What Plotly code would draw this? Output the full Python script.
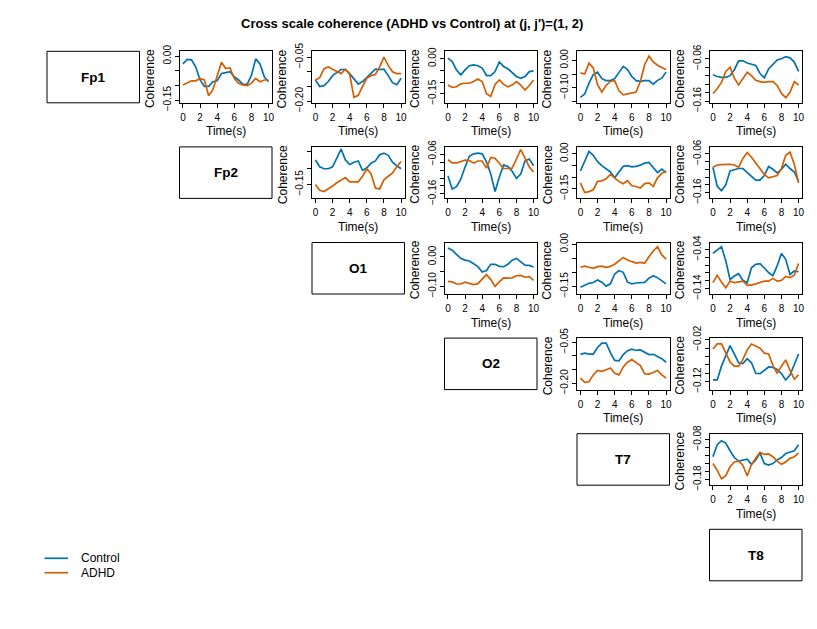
import plotly.graph_objects as go

W, H = 817, 629

# ---------------- data ----------------
time_s = [0, 0.5, 1, 1.5, 2, 2.5, 3, 3.5, 4, 4.5, 5, 5.5, 6, 6.5, 7, 7.5, 8, 8.5, 9, 9.5, 10]
channels = ["Fp1", "Fp2", "O1", "O2", "T7", "T8"]
series_names = ["Control", "ADHD"]

fp1_fp2_control = [-0.026, -0.011, -0.012, -0.037, -0.081, -0.103, -0.103, -0.087, -0.084, -0.059, -0.056, -0.053, -0.070, -0.081, -0.096, -0.096, -0.064, -0.009, -0.026, -0.070, -0.087]
fp1_fp2_adhd = [-0.098, -0.090, -0.084, -0.084, -0.076, -0.081, -0.135, -0.114, -0.070, -0.020, -0.042, -0.040, -0.076, -0.092, -0.098, -0.100, -0.092, -0.076, -0.087, -0.081, -0.081]

fp1_o1_control = [-0.128, -0.150, -0.147, -0.133, -0.113, -0.102, -0.092, -0.092, -0.106, -0.124, -0.142, -0.133, -0.120, -0.106, -0.091, -0.092, -0.091, -0.113, -0.137, -0.144, -0.122]
fp1_o1_adhd = [-0.128, -0.120, -0.089, -0.083, -0.091, -0.098, -0.106, -0.091, -0.109, -0.187, -0.180, -0.150, -0.122, -0.113, -0.109, -0.083, -0.050, -0.078, -0.100, -0.106, -0.106]

fp1_o2_control = [0.003, -0.012, -0.048, -0.069, -0.048, -0.030, -0.026, -0.030, -0.040, -0.072, -0.072, -0.055, -0.014, -0.033, -0.043, -0.058, -0.076, -0.084, -0.076, -0.055, -0.052]
fp1_o2_adhd = [-0.113, -0.123, -0.120, -0.108, -0.105, -0.105, -0.098, -0.087, -0.098, -0.150, -0.162, -0.110, -0.091, -0.110, -0.120, -0.113, -0.098, -0.113, -0.134, -0.115, -0.091]

fp1_t7_control = [-0.135, -0.123, -0.083, -0.052, -0.043, -0.067, -0.074, -0.074, -0.067, -0.043, -0.022, -0.034, -0.059, -0.074, -0.077, -0.074, -0.074, -0.087, -0.073, -0.065, -0.043]
fp1_t7_adhd = [-0.046, -0.050, -0.010, -0.028, -0.089, -0.116, -0.091, -0.077, -0.074, -0.111, -0.126, -0.123, -0.121, -0.116, -0.077, -0.016, 0.015, -0.006, -0.018, -0.026, -0.034]

fp1_t8_control = [-0.098, -0.102, -0.104, -0.104, -0.100, -0.086, -0.065, -0.065, -0.070, -0.073, -0.076, -0.095, -0.105, -0.084, -0.073, -0.063, -0.060, -0.055, -0.058, -0.068, -0.090]
fp1_t8_adhd = [-0.142, -0.131, -0.116, -0.090, -0.080, -0.106, -0.122, -0.108, -0.092, -0.100, -0.111, -0.114, -0.116, -0.114, -0.114, -0.123, -0.142, -0.152, -0.139, -0.114, -0.122]

fp2_o1_control = [-0.075, -0.096, -0.102, -0.102, -0.096, -0.067, -0.042, -0.075, -0.089, -0.082, -0.078, -0.107, -0.099, -0.085, -0.078, -0.059, -0.054, -0.061, -0.082, -0.093, -0.102]
fp2_o1_adhd = [-0.150, -0.168, -0.172, -0.164, -0.155, -0.145, -0.136, -0.129, -0.142, -0.142, -0.142, -0.125, -0.102, -0.118, -0.161, -0.164, -0.136, -0.125, -0.115, -0.096, -0.080]

fp2_o2_control = [-0.114, -0.148, -0.142, -0.123, -0.092, -0.065, -0.059, -0.057, -0.059, -0.079, -0.110, -0.154, -0.118, -0.087, -0.091, -0.103, -0.121, -0.110, -0.077, -0.072, -0.089]
fp2_o2_adhd = [-0.074, -0.082, -0.082, -0.079, -0.075, -0.076, -0.082, -0.077, -0.077, -0.095, -0.068, -0.070, -0.083, -0.096, -0.096, -0.095, -0.072, -0.048, -0.070, -0.092, -0.105]

fp2_t7_control = [-0.074, -0.029, 0.010, -0.007, -0.034, -0.051, -0.066, -0.078, -0.103, -0.081, -0.054, -0.051, -0.056, -0.054, -0.049, -0.040, -0.037, -0.059, -0.081, -0.066, -0.081]
fp2_t7_adhd = [-0.125, -0.166, -0.162, -0.154, -0.118, -0.116, -0.107, -0.088, -0.103, -0.119, -0.128, -0.115, -0.137, -0.140, -0.147, -0.128, -0.125, -0.140, -0.103, -0.084, -0.074]

fp2_t8_control = [-0.095, -0.144, -0.155, -0.140, -0.104, -0.100, -0.098, -0.098, -0.109, -0.118, -0.128, -0.128, -0.116, -0.093, -0.100, -0.109, -0.100, -0.087, -0.098, -0.107, -0.131]
fp2_t8_adhd = [-0.095, -0.089, -0.088, -0.087, -0.087, -0.089, -0.095, -0.072, -0.057, -0.069, -0.084, -0.098, -0.113, -0.122, -0.119, -0.116, -0.098, -0.064, -0.056, -0.087, -0.135]

o1_o2_control = [0.030, 0.023, 0.009, -0.005, -0.011, -0.014, -0.023, -0.033, -0.051, -0.046, -0.025, -0.025, -0.032, -0.033, -0.025, -0.011, -0.005, -0.016, -0.028, -0.029, -0.034]
o1_o2_adhd = [-0.083, -0.085, -0.092, -0.092, -0.086, -0.091, -0.094, -0.091, -0.075, -0.060, -0.077, -0.100, -0.085, -0.071, -0.072, -0.071, -0.064, -0.063, -0.069, -0.067, -0.080]

o1_t7_control = [-0.153, -0.145, -0.139, -0.136, -0.127, -0.135, -0.149, -0.141, -0.106, -0.094, -0.100, -0.135, -0.141, -0.138, -0.136, -0.136, -0.121, -0.112, -0.119, -0.129, -0.141]
o1_t7_adhd = [-0.082, -0.078, -0.082, -0.086, -0.080, -0.078, -0.082, -0.079, -0.071, -0.059, -0.047, -0.056, -0.061, -0.067, -0.065, -0.068, -0.045, -0.024, -0.009, -0.038, -0.053]

o1_t8_control = [-0.050, -0.042, -0.033, -0.069, -0.117, -0.108, -0.102, -0.119, -0.125, -0.087, -0.078, -0.076, -0.088, -0.099, -0.107, -0.082, -0.050, -0.065, -0.104, -0.095, -0.097]
o1_t8_adhd = [-0.125, -0.106, -0.123, -0.138, -0.121, -0.125, -0.123, -0.121, -0.131, -0.131, -0.128, -0.125, -0.121, -0.121, -0.114, -0.121, -0.119, -0.109, -0.112, -0.106, -0.076]

o2_t7_control = [-0.094, -0.090, -0.093, -0.093, -0.069, -0.053, -0.053, -0.088, -0.116, -0.118, -0.095, -0.081, -0.075, -0.080, -0.078, -0.088, -0.095, -0.094, -0.103, -0.110, -0.123]
o2_t7_adhd = [-0.181, -0.196, -0.194, -0.169, -0.153, -0.156, -0.150, -0.144, -0.163, -0.169, -0.140, -0.123, -0.113, -0.123, -0.135, -0.165, -0.166, -0.160, -0.153, -0.169, -0.181]

o2_t8_control = [-0.116, -0.116, -0.083, -0.057, -0.034, -0.054, -0.075, -0.077, -0.065, -0.075, -0.100, -0.101, -0.093, -0.085, -0.086, -0.091, -0.101, -0.116, -0.104, -0.079, -0.054]
o2_t8_adhd = [-0.042, -0.030, -0.030, -0.052, -0.073, -0.083, -0.083, -0.067, -0.044, -0.030, -0.036, -0.040, -0.052, -0.054, -0.081, -0.100, -0.083, -0.068, -0.093, -0.114, -0.104]

t7_t8_control = [-0.123, -0.093, -0.083, -0.089, -0.108, -0.125, -0.134, -0.132, -0.129, -0.142, -0.131, -0.114, -0.140, -0.144, -0.140, -0.131, -0.125, -0.115, -0.112, -0.108, -0.093]
t7_t8_adhd = [-0.140, -0.157, -0.178, -0.170, -0.148, -0.136, -0.134, -0.144, -0.171, -0.142, -0.127, -0.112, -0.117, -0.116, -0.123, -0.134, -0.142, -0.136, -0.127, -0.123, -0.114]

x_ticks = [0, 2, 4, 6, 8, 10]

# y tick values and labels for each panel
ticks_05_a = [0.0, -0.05, -0.10, -0.15]
labels_05_a = ["0.00", "", "", "\u22120.15"]
ticks_05_b = [-0.05, -0.10, -0.15, -0.20]
labels_05_b = ["\u22120.05", "", "", "\u22120.20"]
ticks_05_c = [0.0, -0.05, -0.10, -0.15]
labels_05_c = ["0.00", "", "\u22120.10", ""]
ticks_05_d = [-0.05, -0.10, -0.15]
labels_05_d = ["", "", "\u22120.15"]
ticks_05_e = [0.0, -0.05, -0.10]
labels_05_e = ["0.00", "", "\u22120.10"]
ticks_02_06 = [-0.06, -0.08, -0.10, -0.12, -0.14, -0.16]
labels_02_06 = ["\u22120.06", "", "", "", "", "\u22120.16"]
ticks_02_04 = [-0.04, -0.06, -0.08, -0.10, -0.12, -0.14]
labels_02_04 = ["\u22120.04", "", "", "", "", "\u22120.14"]
ticks_02_02 = [-0.02, -0.04, -0.06, -0.08, -0.10, -0.12]
labels_02_02 = ["\u22120.02", "", "", "", "", "\u22120.12"]
ticks_02_08 = [-0.08, -0.10, -0.12, -0.14, -0.16, -0.18]
labels_02_08 = ["\u22120.08", "", "", "", "", "\u22120.18"]

# (row, col, control, adhd, y-limits, tick values, tick labels)
panels = [
    (0, 1, fp1_fp2_control, fp1_fp2_adhd, [-0.159, 0.017], ticks_05_a, labels_05_a),
    (0, 2, fp1_o1_control, fp1_o1_adhd, [-0.2056, -0.030], ticks_05_b, labels_05_b),
    (0, 3, fp1_o2_control, fp1_o2_adhd, [-0.189, 0.032], ticks_05_a, labels_05_a),
    (0, 4, fp1_t7_control, fp1_t7_adhd, [-0.155, 0.033], ticks_05_c, labels_05_c),
    (0, 5, fp1_t8_control, fp1_t8_adhd, [-0.164, -0.0425], ticks_02_06, labels_02_06),
    (1, 2, fp2_o1_control, fp2_o1_adhd, [-0.193, -0.035], ticks_05_d, labels_05_d),
    (1, 3, fp2_o2_control, fp2_o2_adhd, [-0.1715, -0.0414], ticks_02_06, labels_02_06),
    (1, 4, fp2_t7_control, fp2_t7_adhd, [-0.191, 0.029], ticks_05_a, labels_05_a),
    (1, 5, fp2_t8_control, fp2_t8_adhd, [-0.175, -0.0423], ticks_02_06, labels_02_06),
    (2, 3, o1_o2_control, o1_o2_adhd, [-0.126, 0.049], ticks_05_e, labels_05_e),
    (2, 4, o1_t7_control, o1_t7_adhd, [-0.177, 0.006], ticks_05_a, labels_05_a),
    (2, 5, o1_t8_control, o1_t8_adhd, [-0.154, -0.022], ticks_02_04, labels_02_04),
    (3, 4, o2_t7_control, o2_t7_adhd, [-0.2225, -0.035], ticks_05_b, labels_05_b),
    (3, 5, o2_t8_control, o2_t8_adhd, [-0.139, -0.016], ticks_02_02, labels_02_02),
    (4, 5, t7_t8_control, t7_t8_adhd, [-0.194, -0.0655], ticks_02_08, labels_02_08),
]

# ---------------- styling / geometry ----------------
BLUE = "#0072B2"
ORANGE = "#D55E00"
FONT = "Liberation Sans, Arial, Helvetica, sans-serif"

# page offset of the figure div inside the browser window (default body margin)
PAGE_OFF = 8.0

COL_LEFT0, COL_STEP, BOX_W = 47.0, 132.5, 92.5
ROW_TOP0, ROW_STEP, BOX_H = 51.3, 95.6, 51.5


def px(xp):
    return (xp - PAGE_OFF) / W


def py(yp):
    return 1 - (yp - PAGE_OFF) / H


def cell_box(r, c):
    left = COL_LEFT0 + COL_STEP * c
    top = ROW_TOP0 + ROW_STEP * r
    return left, left + BOX_W, top, top + BOX_H


fig = go.Figure()
layout = dict(
    width=W, height=H,
    margin=dict(l=0, r=0, t=0, b=0, pad=0, autoexpand=False),
    paper_bgcolor="white", plot_bgcolor="white",
    showlegend=False,
    font=dict(family=FONT, color="black"),
)
shapes = []
annotations = []

for k, (r, c, ctrl, adhd, yr, tv, tt) in enumerate(panels, start=1):
    left, right, top, bottom = cell_box(r, c)
    xname = "x" if k == 1 else f"x{k}"
    yname = "y" if k == 1 else f"y{k}"
    fig.add_trace(go.Scatter(x=time_s, y=ctrl, mode="lines", name=series_names[0],
                             line=dict(color=BLUE, width=1.7), xaxis=xname, yaxis=yname))
    fig.add_trace(go.Scatter(x=time_s, y=adhd, mode="lines", name=series_names[1],
                             line=dict(color=ORANGE, width=1.7), xaxis=xname, yaxis=yname))
    xkey = "xaxis" if k == 1 else f"xaxis{k}"
    ykey = "yaxis" if k == 1 else f"yaxis{k}"
    layout[xkey] = dict(
        domain=[px(left), px(right)], anchor=yname, range=[-0.4, 10.4],
        tickvals=x_ticks, ticktext=[str(v) for v in x_ticks],
        ticks="outside", ticklen=4, tickwidth=1, tickcolor="black",
        showline=True, mirror=True, linecolor="black", linewidth=1,
        showgrid=False, zeroline=False, tickfont=dict(size=10, color="black"),
        ticklabelstandoff=1, automargin=False, fixedrange=True,
    )
    layout[ykey] = dict(
        domain=[py(bottom), py(top)], anchor=xname, range=yr,
        tickvals=tv, ticktext=tt, tickangle=-90,
        ticks="outside", ticklen=4, tickwidth=1, tickcolor="black",
        showline=True, mirror=True, linecolor="black", linewidth=1,
        showgrid=False, zeroline=False, tickfont=dict(size=10, color="black"),
        automargin=False, fixedrange=True,
    )
    annotations.append(dict(text="Time(s)", x=px((left + right) / 2), y=py(bottom + 28.5),
                            xref="paper", yref="paper", xanchor="center", yanchor="middle",
                            showarrow=False, font=dict(size=12, family=FONT, color="black")))
    annotations.append(dict(text="Coherence", x=px(left - 29.5), y=py((top + bottom) / 2 + 2),
                            xref="paper", yref="paper", xanchor="center", yanchor="middle",
                            textangle=-90, showarrow=False,
                            font=dict(size=12, family=FONT, color="black")))

# diagonal label boxes
for i, ch in enumerate(channels):
    left, right, top, bottom = cell_box(i, i)
    shapes.append(dict(type="rect", xref="paper", yref="paper",
                       x0=px(left), x1=px(right), y0=py(bottom), y1=py(top),
                       line=dict(color="black", width=1), fillcolor="rgba(0,0,0,0)"))
    annotations.append(dict(text=f"<b>{ch}</b>", x=px((left + right) / 2), y=py((top + bottom) / 2),
                            xref="paper", yref="paper", xanchor="center", yanchor="middle",
                            showarrow=False, font=dict(size=13.5, family=FONT, color="black")))

# title
annotations.append(dict(text="<b>Cross scale coherence (ADHD vs Control) at (j, j')=(1, 2)</b>",
                        x=px(411.5), y=py(23), xref="paper", yref="paper",
                        xanchor="center", yanchor="middle", showarrow=False,
                        font=dict(size=13, family=FONT, color="black")))

# legend (bottom-left)
for name, color, ly in [(series_names[0], BLUE, 558.3), (series_names[1], ORANGE, 572.7)]:
    shapes.append(dict(type="line", xref="paper", yref="paper",
                       x0=px(44.5), x1=px(68), y0=py(ly), y1=py(ly),
                       line=dict(color=color, width=1.7)))
    annotations.append(dict(text=name, x=px(79), y=py(ly), xref="paper", yref="paper",
                            xanchor="left", yanchor="middle", showarrow=False,
                            font=dict(size=12, family=FONT, color="black")))

layout["shapes"] = shapes
layout["annotations"] = annotations
fig.update_layout(**layout)
fig.write_html("out.html")
